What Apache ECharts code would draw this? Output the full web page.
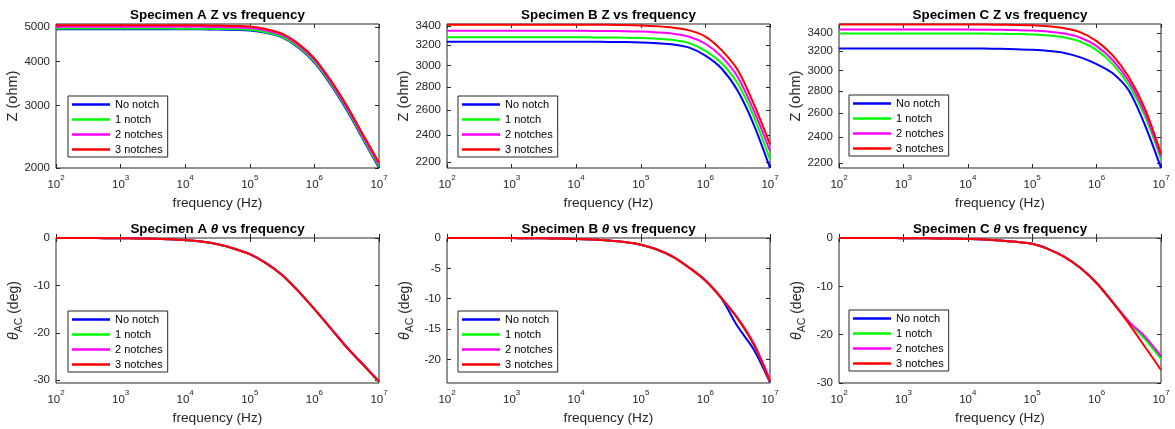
<!DOCTYPE html>
<html>
<head>
<meta charset="utf-8">
<script src="https://cdn.jsdelivr.net/npm/echarts@6/dist/echarts.min.js"></script>
<style>
  html, body { margin: 0; padding: 0; background: #fff; }
  #chart { width: 1175px; height: 429px; }
</style>
</head>
<body>
<div id="chart"></div>
<script>
// frequency points (Hz), quarter-decade steps
const freq = [100, 177.8, 316.2, 562.3, 1e3, 1778, 3162, 5623, 1e4, 17783, 31623, 56234,
  1e5, 177828, 316228, 562341, 1e6, 1778279, 3162278, 5623413, 1e7]

const seriesNames = ['No notch', '1 notch', '2 notches', '3 notches']
const seriesColors = ['#0000ff', '#00ff00', '#ff00ff', '#ff0000']

// Z (ohm)
const zA_none  = [4930, 4930, 4930, 4930, 4930, 4930, 4930, 4929, 4928, 4926, 4920, 4908, 4890, 4815, 4675, 4380, 3970, 3445, 2915, 2415, 2000]
const zA_one   = [4950, 4950, 4950, 4950, 4950, 4950, 4950, 4949, 4948, 4946, 4940, 4928, 4910, 4835, 4695, 4400, 3995, 3470, 2940, 2435, 2020]
const zA_two   = [5010, 5010, 5010, 5010, 5010, 5010, 5010, 5009, 5008, 5006, 5000, 4988, 4965, 4885, 4745, 4445, 4040, 3505, 2970, 2462, 2045]
const zA_three = [5060, 5060, 5060, 5060, 5060, 5060, 5060, 5059, 5058, 5056, 5050, 5038, 5020, 4935, 4790, 4490, 4080, 3540, 3000, 2490, 2070]

const zB_none  = [3237, 3237, 3237, 3237, 3237, 3237, 3237, 3237, 3236, 3235, 3234, 3232, 3228, 3220, 3208, 3175, 3095, 2970, 2765, 2480, 2160]
const zB_one   = [3283, 3283, 3283, 3283, 3283, 3283, 3283, 3283, 3282, 3281, 3280, 3278, 3274, 3266, 3254, 3222, 3142, 3020, 2830, 2545, 2220]
const zB_two   = [3352, 3352, 3352, 3352, 3352, 3352, 3352, 3352, 3351, 3350, 3349, 3347, 3343, 3334, 3320, 3288, 3215, 3085, 2890, 2595, 2280]
const zB_three = [3418, 3418, 3418, 3418, 3418, 3418, 3418, 3418, 3417, 3417, 3416, 3414, 3409, 3400, 3385, 3356, 3290, 3150, 2955, 2650, 2330]

const zC_none  = [3230, 3230, 3230, 3230, 3230, 3230, 3230, 3230, 3229, 3228, 3226, 3222, 3215, 3203, 3182, 3135, 3065, 2972, 2805, 2500, 2165]
const zC_one   = [3396, 3396, 3396, 3396, 3396, 3396, 3396, 3396, 3395, 3394, 3392, 3389, 3384, 3372, 3350, 3303, 3212, 3065, 2855, 2575, 2230]
const zC_two   = [3441, 3441, 3441, 3441, 3441, 3441, 3441, 3441, 3440, 3439, 3437, 3434, 3429, 3417, 3395, 3348, 3255, 3105, 2895, 2605, 2250]
const zC_three = [3500, 3500, 3500, 3500, 3500, 3500, 3500, 3500, 3499, 3498, 3497, 3494, 3490, 3478, 3455, 3408, 3310, 3155, 2935, 2640, 2270]

// theta_AC (deg)
const thA_none  = [0, 0, -0.01, -0.03, -0.05, -0.08, -0.14, -0.25, -0.42, -0.75, -1.3, -2.2, -3.4, -5.3, -7.8, -11.2, -15.0, -19.0, -23.1, -26.7, -30.4]
const thA_one   = [0, 0, -0.01, -0.03, -0.05, -0.08, -0.14, -0.25, -0.42, -0.75, -1.3, -2.2, -3.4, -5.3, -7.8, -11.2, -15.0, -19.0, -23.1, -26.7, -30.4]
const thA_two   = [0, 0, -0.01, -0.03, -0.05, -0.08, -0.14, -0.25, -0.42, -0.75, -1.3, -2.2, -3.4, -5.3, -7.8, -11.2, -15.0, -19.0, -23.0, -26.6, -30.2]
const thA_three = [0, 0, -0.01, -0.03, -0.05, -0.08, -0.14, -0.25, -0.42, -0.75, -1.3, -2.2, -3.4, -5.3, -7.8, -11.2, -15.0, -19.0, -23.1, -26.7, -30.3]

const thB_none  = [0, 0, 0, -0.01, -0.02, -0.03, -0.05, -0.09, -0.15, -0.25, -0.4, -0.65, -1.1, -1.9, -3.1, -4.9, -7.0, -10.0, -14.6, -18.4, -23.8]
const thB_one   = [0, 0, 0, -0.01, -0.02, -0.03, -0.05, -0.09, -0.15, -0.25, -0.4, -0.65, -1.1, -1.9, -3.1, -4.9, -7.0, -9.9, -13.3, -17.6, -23.6]
const thB_two   = [0, 0, 0, -0.01, -0.02, -0.03, -0.05, -0.09, -0.15, -0.25, -0.4, -0.65, -1.1, -1.9, -3.1, -4.9, -7.0, -9.9, -13.2, -17.4, -23.4]
const thB_three = [0, 0, 0, -0.01, -0.02, -0.03, -0.05, -0.09, -0.15, -0.25, -0.4, -0.65, -1.1, -1.9, -3.1, -4.9, -7.0, -9.9, -13.3, -17.6, -23.7]

const thC_none  = [0, 0, 0, -0.01, -0.03, -0.05, -0.08, -0.13, -0.2, -0.3, -0.5, -0.8, -1.2, -2.3, -3.9, -6.2, -9.3, -13.3, -17.3, -20.6, -24.6]
const thC_one   = [0, 0, 0, -0.01, -0.03, -0.05, -0.08, -0.13, -0.2, -0.3, -0.5, -0.8, -1.2, -2.3, -3.9, -6.2, -9.3, -13.3, -17.4, -20.9, -25.0]
const thC_two   = [0, 0, 0, -0.01, -0.03, -0.05, -0.08, -0.13, -0.2, -0.3, -0.5, -0.8, -1.2, -2.3, -3.9, -6.2, -9.3, -13.3, -17.3, -20.4, -24.4]
const thC_three = [0, 0, 0, -0.01, -0.03, -0.05, -0.08, -0.13, -0.2, -0.3, -0.5, -0.8, -1.2, -2.3, -3.9, -6.2, -9.3, -13.3, -17.7, -22.5, -27.3]

// tick labels
const zTicksA = [2000, 3000, 4000, 5000]
const zTicksBC = [2200, 2400, 2600, 2800, 3000, 3200, 3400]
const thTicksA = [-30, -20, -10, 0]
const thTicksB = [-20, -15, -10, -5, 0]
const thTicksC = [-30, -20, -10, 0]

const FONT = '"Liberation Sans", Arial, Helvetica, sans-serif'
const AXIS_COLOR = '#262626'

// 面板布局
const panels = [
  { spec: 'A', kind: 'Z', data: [zA_none, zA_one, zA_two, zA_three], ticks: zTicksA, min: 2000, max: 5100, left: 56, top: 24, width: 323, height: 144, legendLeft: 68, legendTop: 96 },
  { spec: 'B', kind: 'Z', data: [zB_none, zB_one, zB_two, zB_three], ticks: zTicksBC, min: 2160, max: 3425, left: 447, top: 24, width: 323, height: 144, legendLeft: 458, legendTop: 96 },
  { spec: 'C', kind: 'Z', data: [zC_none, zC_one, zC_two, zC_three], ticks: zTicksBC, min: 2165, max: 3505, left: 839, top: 24, width: 322, height: 144, legendLeft: 849, legendTop: 95 },
  { spec: 'A', kind: 'th', data: [thA_none, thA_one, thA_two, thA_three], ticks: thTicksA, min: -30.6, max: 0, left: 56, top: 238, width: 323, height: 145, legendLeft: 68, legendTop: 311 },
  { spec: 'B', kind: 'th', data: [thB_none, thB_one, thB_two, thB_three], ticks: thTicksB, min: -23.9, max: 0, left: 447, top: 238, width: 323, height: 145, legendLeft: 458, legendTop: 311 },
  { spec: 'C', kind: 'th', data: [thC_none, thC_one, thC_two, thC_three], ticks: thTicksC, min: -30, max: 0, left: 839, top: 238, width: 322, height: 145, legendLeft: 849, legendTop: 310 },
]

// Z 面板使用对数纵轴
const toY = (p, v) => (p.kind === 'Z' ? Math.log10(v) : v)

const tickStyle = { inside: true, length: 4, lineStyle: { color: AXIS_COLOR, width: 1 } }
const labelStyle = { fontFamily: FONT, fontSize: 11.5, color: AXIS_COLOR }

const grid = []
const xAxis = []
const yAxis = []
const title = []
const legend = []
const series = []

panels.forEach((p, i) => {
  grid.push({
    left: p.left, top: p.top, width: p.width, height: p.height,
    show: true, borderColor: AXIS_COLOR, borderWidth: 1, backgroundColor: '#fff',
  })

  const xBase = {
    type: 'log', logBase: 10, min: 1e2, max: 1e7, gridIndex: i,
    splitLine: { show: false }, axisLine: { show: false }, axisTick: tickStyle,
  }
  xAxis.push(Object.assign({}, xBase, {
    position: 'bottom',
    axisLabel: {
      margin: 6,
      formatter: v => '{b|10}{s|' + Math.round(Math.log10(v)) + '}',
      rich: {
        b: { fontFamily: FONT, fontSize: 11.5, color: AXIS_COLOR, lineHeight: 17, verticalAlign: 'bottom' },
        s: { fontFamily: FONT, fontSize: 8, color: AXIS_COLOR, lineHeight: 17, verticalAlign: 'top' },
      },
    },
    name: 'frequency (Hz)', nameLocation: 'middle', nameGap: 28,
    nameTextStyle: { fontFamily: FONT, fontSize: 13.7, color: AXIS_COLOR },
  }))
  xAxis.push(Object.assign({}, xBase, { position: 'top', axisLabel: { show: false } }))

  const tickVals = p.ticks.map(t => toY(p, t))
  const yBase = {
    type: 'value', gridIndex: i, min: toY(p, p.min), max: toY(p, p.max),
    splitLine: { show: false }, axisLine: { show: false },
    axisTick: Object.assign({ customValues: tickVals }, tickStyle),
  }
  const isZ = p.kind === 'Z'
  yAxis.push(Object.assign({}, yBase, {
    position: 'left',
    axisLabel: Object.assign({
      margin: 6,
      customValues: tickVals,
      formatter: v => (isZ ? String(Math.round(Math.pow(10, v))) : String(Math.round(v))),
    }, labelStyle),
    name: isZ ? 'Z (ohm)' : '{t|θ}{s|AC}{n| (deg)}',
    nameLocation: 'middle', nameGap: isZ ? 34 : 31,
    nameTextStyle: {
      fontFamily: FONT, fontSize: 14.5, color: AXIS_COLOR,
      rich: {
        t: { fontFamily: FONT, fontSize: 14, fontStyle: 'italic', color: AXIS_COLOR, lineHeight: 18, verticalAlign: 'top' },
        s: { fontFamily: FONT, fontSize: 10.5, color: AXIS_COLOR, lineHeight: 18, verticalAlign: 'bottom' },
        n: { fontFamily: FONT, fontSize: 14, color: AXIS_COLOR, lineHeight: 18, verticalAlign: 'top' },
      },
    },
  }))
  yAxis.push(Object.assign({}, yBase, { position: 'right', axisLabel: { show: false } }))

  title.push({
    text: 'Specimen ' + p.spec + (isZ ? ' Z' : ' {i|θ}') + ' vs frequency',
    left: p.left + p.width / 2, textAlign: 'center',
    top: p.top - 15, padding: 0,
    textStyle: {
      fontFamily: FONT, fontSize: 13.4, fontWeight: 'bold', color: '#000',
      rich: { i: { fontFamily: FONT, fontSize: 13.4, fontWeight: 'bold', fontStyle: 'italic', color: '#000' } },
    },
  })

  legend.push({
    left: p.legendLeft, top: p.legendTop, orient: 'vertical', icon: 'rect',
    itemWidth: 38, itemHeight: 2.5, itemGap: 2, padding: [2, 5, 1, 4],
    borderColor: AXIS_COLOR, borderWidth: 1, backgroundColor: '#fff',
    textStyle: { fontFamily: FONT, fontSize: 11, lineHeight: 13, color: '#000' },
    data: seriesNames, selectedMode: false, z: 10,
  })

  p.data.forEach((vals, k) => {
    series.push({
      type: 'line', name: seriesNames[k],
      xAxisIndex: 2 * i, yAxisIndex: 2 * i,
      data: freq.map((f, j) => [f, toY(p, vals[j])]),
      symbol: 'none', showSymbol: false,
      smooth: 0.3,
      lineStyle: { width: 2, color: seriesColors[k] },
      itemStyle: { color: seriesColors[k] },
      z: 2 + k,
    })
  })
})

const chart = echarts.init(document.getElementById('chart'))
chart.setOption({
  animation: false,
  backgroundColor: '#fff',
  textStyle: { fontFamily: FONT },
  title, grid, xAxis, yAxis, legend, series,
})
</script>
</body>
</html>
